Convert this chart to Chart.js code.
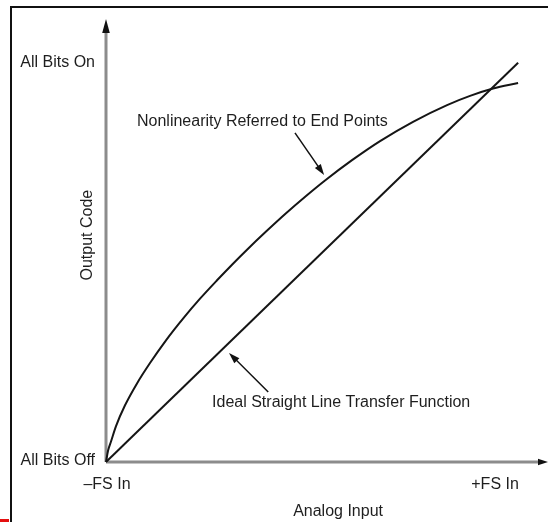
<!DOCTYPE html>
<html>
<head>
<meta charset="utf-8">
<script src="https://cdn.jsdelivr.net/npm/chart.js@4/dist/chart.umd.min.js"></script>
<style>
  html, body { margin: 0; padding: 0; background: #fff; }
  #wrap { width: 548px; height: 522px; position: relative; }
</style>
</head>
<body>
<div id="wrap"><canvas id="c" width="548" height="522"></canvas></div>
<script>
// Axis ticks (input in % of full scale, output in % of code range)
const xTickValues = [0, 100];
const xTickLabels = ['\u2013FS In', '+FS In'];
const yTickValues = [0, 100];
const yTickLabels = ['All Bits Off', 'All Bits On'];

// Actual (bowed) converter transfer curve
const actualX = [0, 0.52, 1.29, 2.58, 4.90, 7.99, 11.34, 15.46, 19.85, 24.23, 28.61, 32.47, 36.34,
                 41.24, 46.39, 51.55, 56.44, 63.40, 70.62, 79.12, 87.89, 93.81, 99.74, 106.19];
const actualY = [0, 2.84, 5.15, 9.02, 14.25, 19.75, 24.87, 30.58, 36.03, 41.03, 45.65, 49.57, 53.34,
                 57.89, 62.49, 66.83, 70.73, 75.83, 80.63, 85.48, 89.67, 91.98, 93.82, 95.23];

// Ideal straight-line transfer function
const idealX = [0, 106.2];
const idealY = [0, 100.3];

const toPoints = (xs, ys) => xs.map((x, i) => ({ x, y: ys[i] }));

const FONT = '16px "Liberation Sans", Arial, Helvetica, sans-serif';
const INK = '#1e1e1e';

// Callout texts and their pointer arrows, in data units
const callouts = [
  { text: 'Nonlinearity Referred to End Points', at: [40.3, 85.4], from: [48.7, 82.7], to: [56.2, 72.1] },
  { text: 'Ideal Straight Line Transfer Function', at: [60.6, 14.8], from: [41.8, 17.6], to: [31.7, 27.4] }
];

function arrowHead(ctx, x1, y1, x2, y2, len, half) {
  const a = Math.atan2(y2 - y1, x2 - x1);
  ctx.beginPath();
  ctx.moveTo(x2, y2);
  ctx.lineTo(x2 - len * Math.cos(a) + half * Math.sin(a), y2 - len * Math.sin(a) - half * Math.cos(a));
  ctx.lineTo(x2 - len * Math.cos(a) - half * Math.sin(a), y2 - len * Math.sin(a) + half * Math.cos(a));
  ctx.closePath();
  ctx.fill();
}

const diagramPlugin = {
  id: 'diagram',
  beforeDatasetsDraw(chart) {
    const { ctx, scales: { x, y }, chartArea } = chart;
    const ox = x.getPixelForValue(0), oy = y.getPixelForValue(0);
    ctx.save();
    // page frame
    ctx.strokeStyle = '#111';
    ctx.lineWidth = 2;
    ctx.beginPath();
    ctx.moveTo(11, 522);
    ctx.lineTo(11, 7);
    ctx.lineTo(548, 7);
    ctx.stroke();
    ctx.fillStyle = '#e41010';
    ctx.fillRect(0, 519, 9, 3);

    // axes
    ctx.strokeStyle = '#8c8c8c';
    ctx.lineWidth = 3;
    ctx.beginPath();
    ctx.moveTo(ox, oy);
    ctx.lineTo(ox, chartArea.top + 10);
    ctx.moveTo(ox, oy);
    ctx.lineTo(chartArea.right - 6, oy);
    ctx.stroke();
    ctx.fillStyle = '#111';
    arrowHead(ctx, ox, oy, ox, chartArea.top, 14, 3.8);
    arrowHead(ctx, ox, oy, chartArea.right, oy, 10, 3.2);
    ctx.restore();
  },
  afterDatasetsDraw(chart) {
    const { ctx, scales: { x, y } } = chart;
    const ox = x.getPixelForValue(0), oy = y.getPixelForValue(0);
    ctx.save();
    ctx.font = FONT;
    ctx.fillStyle = INK;
    ctx.textBaseline = 'middle';

    // tick labels
    ctx.textAlign = 'center';
    xTickValues.forEach((v, i) => ctx.fillText(xTickLabels[i], x.getPixelForValue(v) + 1, oy + 23));
    ctx.textAlign = 'right';
    yTickValues.forEach((v, i) => ctx.fillText(yTickLabels[i], ox - 11, y.getPixelForValue(v) - 1.5));

    // axis titles
    ctx.textAlign = 'center';
    ctx.fillText('Analog Input', x.getPixelForValue(59.8), oy + 50);
    ctx.save();
    ctx.translate(ox - 18, y.getPixelForValue(57));
    ctx.rotate(-Math.PI / 2);
    ctx.fillText('Output Code', 0, 0);
    ctx.restore();

    // callouts
    ctx.strokeStyle = '#111';
    ctx.lineWidth = 1.5;
    callouts.forEach(c => {
      ctx.fillStyle = INK;
      ctx.fillText(c.text, x.getPixelForValue(c.at[0]), y.getPixelForValue(c.at[1]));
      const x1 = x.getPixelForValue(c.from[0]), y1 = y.getPixelForValue(c.from[1]);
      const x2 = x.getPixelForValue(c.to[0]), y2 = y.getPixelForValue(c.to[1]);
      const a = Math.atan2(y2 - y1, x2 - x1);
      ctx.beginPath();
      ctx.moveTo(x1, y1);
      ctx.lineTo(x2 - 8 * Math.cos(a), y2 - 8 * Math.sin(a));
      ctx.stroke();
      ctx.fillStyle = '#111';
      arrowHead(ctx, x1, y1, x2, y2, 11, 3.6);
    });
    ctx.restore();
  }
};

new Chart(document.getElementById('c'), {
  type: 'scatter',
  data: {
    datasets: [
      {
        label: 'Actual',
        data: toPoints(actualX, actualY),
        showLine: true,
        borderColor: '#151515',
        borderWidth: 2,
        pointRadius: 0,
        cubicInterpolationMode: 'monotone',
        clip: false
      },
      {
        label: 'Ideal',
        data: toPoints(idealX, idealY),
        showLine: true,
        borderColor: '#151515',
        borderWidth: 2,
        pointRadius: 0,
        clip: false
      }
    ]
  },
  options: {
    responsive: false,
    animation: false,
    devicePixelRatio: 1,
    layout: { padding: { left: 106, top: 19, right: 0, bottom: 60 } },
    plugins: { legend: { display: false }, tooltip: { enabled: false } },
    scales: {
      x: { type: 'linear', min: 0, max: 113.9, display: false },
      y: { type: 'linear', min: 0, max: 111.3, display: false }
    }
  },
  plugins: [diagramPlugin]
});
</script>
</body>
</html>
